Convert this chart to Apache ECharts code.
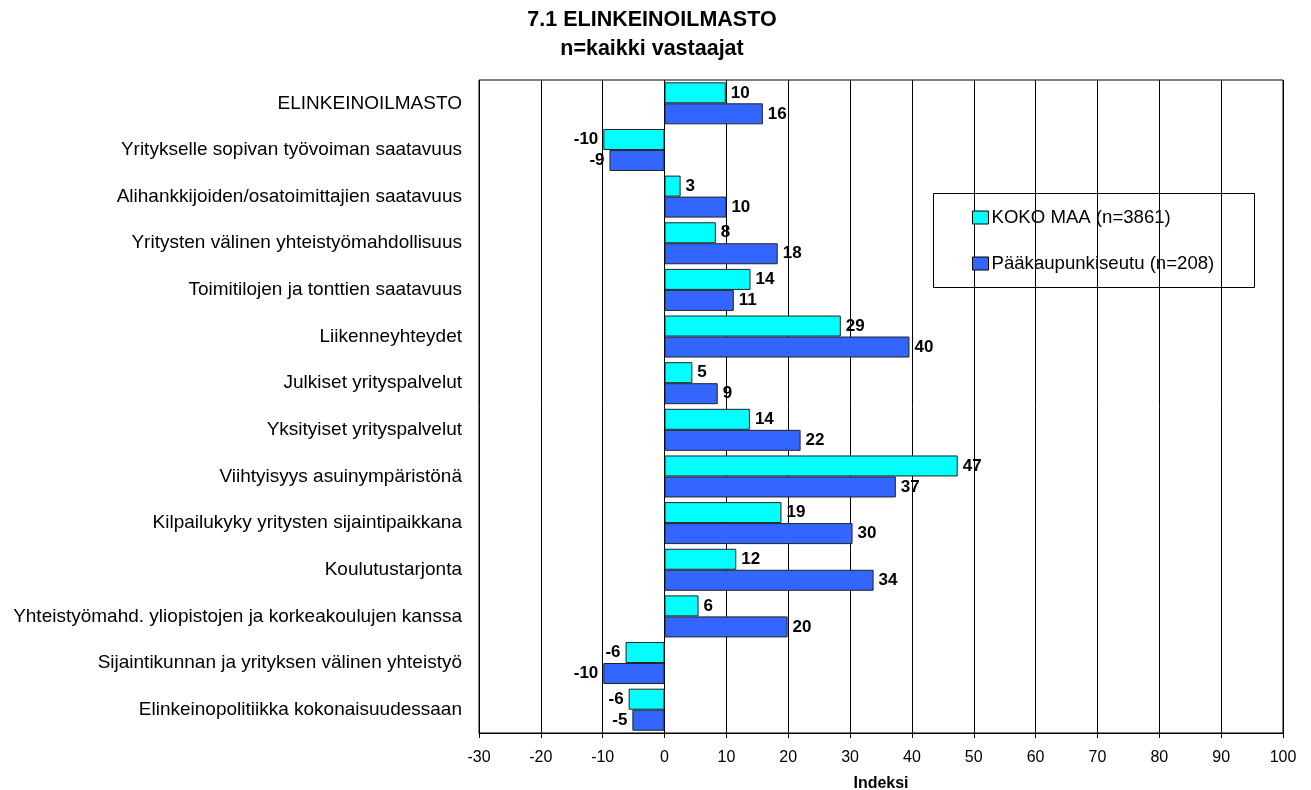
<!DOCTYPE html>
<html>
<head>
<meta charset="utf-8">
<style>
  html, body { margin: 0; padding: 0; background: #fff; }
  #main { width: 1311px; height: 790px; }
</style>
<script src="https://cdn.jsdelivr.net/npm/echarts@6/dist/echarts.min.js"></script>
</head>
<body>
<div id="main"></div>
<script>
// categories, top to bottom
var categories = [
  'ELINKEINOILMASTO',
  'Yritykselle sopivan työvoiman saatavuus',
  'Alihankkijoiden/osatoimittajien saatavuus',
  'Yritysten välinen yhteistyömahdollisuus',
  'Toimitilojen ja tonttien saatavuus',
  'Liikenneyhteydet',
  'Julkiset yrityspalvelut',
  'Yksityiset yrityspalvelut',
  'Viihtyisyys asuinympäristönä',
  'Kilpailukyky yritysten sijaintipaikkana',
  'Koulutustarjonta',
  'Yhteistyömahd. yliopistojen ja korkeakoulujen kanssa',
  'Sijaintikunnan ja yrityksen välinen yhteistyö',
  'Elinkeinopolitiikka kokonaisuudessaan'
];
var kokoMaa = [9.9, -9.9, 2.6, 8.3, 13.9, 28.5, 4.5, 13.8, 47.4, 18.9, 11.6, 5.5, -6.3, -5.8];
var paakaupunkiseutu = [15.9, -8.9, 10.0, 18.3, 11.2, 39.6, 8.6, 22.0, 37.4, 30.4, 33.8, 19.9, -9.9, -5.2];
var xTicks = [-30, -20, -10, 0, 10, 20, 30, 40, 50, 60, 70, 80, 90, 100];

function toItems(arr) {
  return arr.map(function (v) {
    return { value: v, label: { position: v < 0 ? 'left' : 'right' } };
  });
}

var chart = echarts.init(document.getElementById('main'));
var font = 'Arial, "Liberation Sans", sans-serif';

chart.setOption({
  animation: false,
  textStyle: { fontFamily: font },
  title: {
    text: '7.1 ELINKEINOILMASTO\nn=kaikki vastaajat',
    left: 647,
    textAlign: 'center',
    top: 1,
    textStyle: { fontSize: 21.5, fontWeight: 'bold', color: '#000', lineHeight: 29, fontFamily: font }
  },
  // legend frame
  graphic: [{
    type: 'rect',
    left: 933,
    top: 193,
    z: 0,
    shape: { width: 321, height: 94 },
    style: { fill: '#fff', stroke: '#000', lineWidth: 1 }
  }],
  legend: {
    orient: 'vertical',
    left: 972,
    top: 208,
    padding: 0,
    itemGap: 27,
    itemWidth: 16,
    itemHeight: 13,
    icon: 'rect',
    z: 5,
    itemStyle: { borderColor: '#000', borderWidth: 1 },
    textStyle: { fontSize: 18.6, color: '#000', fontFamily: font, padding: [0, 0, 0, -2] },
    data: ['KOKO MAA (n=3861)', 'Pääkaupunkiseutu (n=208)']
  },
  grid: {
    left: 479,
    right: 28,
    top: 80,
    bottom: 57,
    show: true,
    borderColor: '#000',
    borderWidth: 1,
    containLabel: false,
    outerBoundsMode: 'none'
  },
  xAxis: {
    type: 'value',
    min: -30,
    max: 100,
    interval: 10,
    name: 'Indeksi',
    nameLocation: 'middle',
    nameGap: 43,
    nameTextStyle: { fontSize: 16, fontWeight: 'bold', color: '#000' },
    axisLine: { show: true, lineStyle: { color: '#000' } },
    axisTick: { show: true, length: 5, lineStyle: { color: '#000' } },
    axisLabel: { fontSize: 16, color: '#000', margin: 17,
      formatter: function (v) { return xTicks.indexOf(v) >= 0 ? String(v) : ''; } },
    splitLine: { show: true, lineStyle: { color: '#000', width: 1 } }
  },
  yAxis: {
    type: 'category',
    inverse: true,
    data: categories,
    axisLine: { show: false },
    axisTick: { show: false },
    axisLabel: { fontSize: 19, color: '#000', margin: 17 },
    splitLine: { show: false }
  },
  series: [
    {
      name: 'KOKO MAA (n=3861)',
      type: 'bar',
      data: toItems(kokoMaa),
      barWidth: 21,
      barGap: '0%',
      itemStyle: { color: '#00FFFF', borderColor: '#222', borderWidth: 1 },
      label: {
        show: true, fontSize: 17, fontWeight: 'bold', color: '#000', distance: 5,
        formatter: function (p) { return Math.round(p.value); }
      }
    },
    {
      name: 'Pääkaupunkiseutu (n=208)',
      type: 'bar',
      data: toItems(paakaupunkiseutu),
      barWidth: 21,
      itemStyle: { color: '#3366FF', borderColor: '#222', borderWidth: 1 },
      label: {
        show: true, fontSize: 17, fontWeight: 'bold', color: '#000', distance: 5,
        formatter: function (p) { return Math.round(p.value); }
      }
    }
  ]
});
</script>
</body>
</html>
